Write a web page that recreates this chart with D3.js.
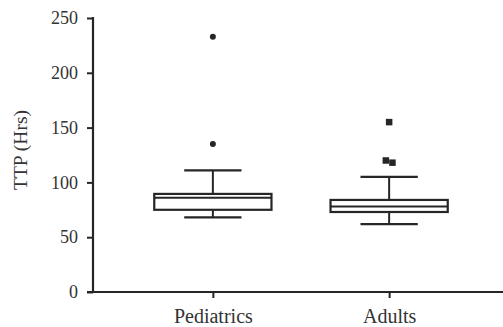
<!DOCTYPE html>
<html>
<head>
<meta charset="utf-8">
<script src="https://cdn.jsdelivr.net/npm/d3@7"></script>
<style>
  body { margin: 0; background: #fff; }
  svg { display: block; }
  .axis text { font-family: "Liberation Serif", "DejaVu Serif", serif; fill: #333; }
</style>
</head>
<body>
<div id="chart"></div>
<script>
const width = 503;
const height = 327;

// Données
const groups = ["Pediatrics", "Adults"];
const whiskerLow = [68, 62];
const q1 = [75, 73];
const median = [86, 78];
const q3 = [89.5, 84];
const whiskerHigh = [111, 105];
const outliers = [[233, 135], [155, 120, 118]];
const yTicks = [0, 50, 100, 150, 200, 250];

const margin = { top: 18, right: 0, bottom: 35, left: 93 };
const ink = "#262626";

const svg = d3.select("#chart")
    .append("svg")
    .attr("width", width)
    .attr("height", height);

const y = d3.scaleLinear()
    .domain([0, 250])
    .range([height - margin.bottom, margin.top]);

const x = d3.scalePoint()
    .domain(groups)
    .range([margin.left, 509])
    .padding(0.68);

const boxW = x.step() * 0.665;
const capW = x.step() * 0.325;

// Axe Y
const yAxis = svg.append("g")
    .attr("class", "axis")
    .attr("transform", `translate(${margin.left},0)`)
    .call(d3.axisLeft(y).tickValues(yTicks).tickSize(6).tickPadding(9));
yAxis.select(".domain").remove();
yAxis.selectAll(".tick line").attr("stroke", ink).attr("stroke-width", 2);
yAxis.selectAll("text").style("font-size", "18px");
yAxis.append("line")
    .attr("y1", y(250) - 1).attr("y2", y(0))
    .attr("stroke", ink).attr("stroke-width", 2.2);

// Axe X
const xAxis = svg.append("g")
    .attr("class", "axis")
    .attr("transform", `translate(0,${y(0)})`)
    .call(d3.axisBottom(x).tickSize(6).tickPadding(11));
xAxis.select(".domain").remove();
xAxis.selectAll(".tick line").attr("stroke", ink).attr("stroke-width", 2);
xAxis.selectAll("text").style("font-size", "20px");
xAxis.append("line")
    .attr("x1", margin.left - 6).attr("x2", width)
    .attr("stroke", ink).attr("stroke-width", 2.2);

// Titre de l'axe Y
svg.append("text")
    .attr("transform", `translate(23,150) rotate(-90)`)
    .attr("text-anchor", "middle")
    .attr("dominant-baseline", "middle")
    .style("font-family", "\"Liberation Serif\", serif")
    .style("font-size", "19.5px")
    .style("fill", "#333")
    .text("TTP (Hrs)");

// Boîtes à moustaches
groups.forEach((g, i) => {
    const cx = x(g);
    const box = svg.append("g");

    box.append("line")
        .attr("x1", cx).attr("x2", cx)
        .attr("y1", y(whiskerHigh[i])).attr("y2", y(q3[i]))
        .attr("stroke", ink).attr("stroke-width", 2);
    box.append("line")
        .attr("x1", cx).attr("x2", cx)
        .attr("y1", y(q1[i])).attr("y2", y(whiskerLow[i]))
        .attr("stroke", ink).attr("stroke-width", 2);

    [whiskerHigh[i], whiskerLow[i]].forEach(v => {
        box.append("line")
            .attr("x1", cx - capW / 2).attr("x2", cx + capW / 2)
            .attr("y1", y(v)).attr("y2", y(v))
            .attr("stroke", ink).attr("stroke-width", 2.2);
    });

    box.append("rect")
        .attr("x", cx - boxW / 2)
        .attr("y", y(q3[i]))
        .attr("width", boxW)
        .attr("height", y(q1[i]) - y(q3[i]))
        .attr("fill", "#fff")
        .attr("stroke", ink)
        .attr("stroke-width", 2.2);

    box.append("line")
        .attr("x1", cx - boxW / 2).attr("x2", cx + boxW / 2)
        .attr("y1", y(median[i])).attr("y2", y(median[i]))
        .attr("stroke", ink).attr("stroke-width", 2);
});

// Valeurs aberrantes : cercles (Pediatrics), carrés (Adults)
svg.selectAll(".out-ped")
    .data(outliers[0])
    .join("circle")
    .attr("cx", x(groups[0]))
    .attr("cy", d => y(d))
    .attr("r", 3)
    .attr("fill", ink);

const sq = 6.5;
const adultOffsets = [0, -3.3, 3.3];
svg.selectAll(".out-adu")
    .data(outliers[1])
    .join("rect")
    .attr("x", (d, j) => x(groups[1]) + adultOffsets[j] - sq / 2)
    .attr("y", d => y(d) - sq / 2)
    .attr("width", sq)
    .attr("height", sq)
    .attr("fill", ink);
</script>
</body>
</html>
